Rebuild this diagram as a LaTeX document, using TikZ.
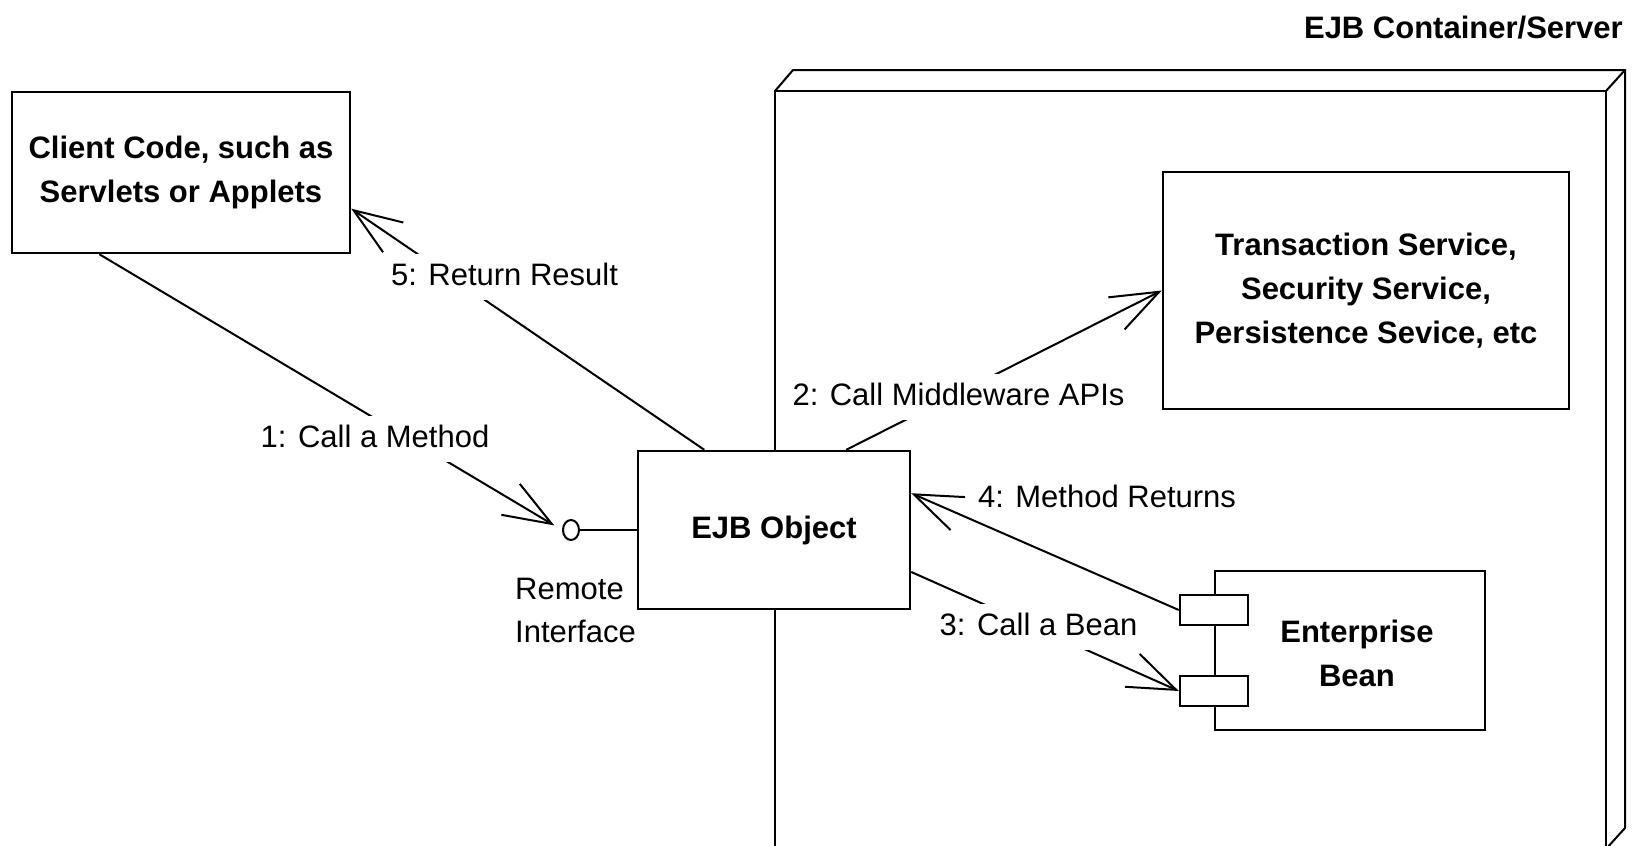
\documentclass[tikz,border=0pt]{standalone}
\usepackage{fontspec}
\setmainfont{Liberation Sans}
\usetikzlibrary{arrows.meta,calc,shapes.geometric}
\tikzset{
  box/.style={draw, line width=2.4pt, fill=white, inner sep=0pt, align=center, font=\bfseries\fontsize{31}{44}\selectfont},
  boxtext/.style={inner sep=0pt, align=center, font=\bfseries\fontsize{31}{44}\selectfont},
  cont/.style={draw, line width=2pt, line join=miter},
  link/.style={line width=2pt},
  msg/.style={line width=2pt, -{Straight Barb[length=48pt,width=36pt]}},
  lbl/.style={fill=white, inner xsep=3pt, inner ysep=8pt, text height=23pt, text depth=7pt, font=\fontsize{31}{44}\selectfont, anchor=base},
  port/.style={draw, line width=2.4pt, fill=white, minimum width=68pt, minimum height=30pt, inner sep=0pt},
  iface/.style={draw, ellipse, line width=2pt, fill=white, minimum width=16pt, minimum height=20pt, inner sep=0pt},
}
\begin{document}
\begin{tikzpicture}[x=1pt,y=-1pt]
\useasboundingbox (0,0) rectangle (1642,846);
\fill[white] (0,0) rectangle (1642,846);
\clip (0,0) rectangle (1642,846);

% container (3D box)
\draw[cont] (775,91) -- (793,70) -- (1625,70) -- (1625,828) -- (1606,849);
\draw[cont] (775,870) -- (775,91) -- (1606,91) -- (1606,870);
\draw[cont] (1606,91) -- (1625,70);
\node[anchor=base east, inner sep=0pt, font=\bfseries\fontsize{31}{44}\selectfont] (title) at (1623,38) {EJB Container/Server};

% nodes
\node[box, minimum width=338pt, minimum height=161pt] (client) at (181,172.5) {Client Code, such as\\Servlets or Applets};
\node[box, minimum width=406pt, minimum height=237pt] (trans) at (1366,290.5) {Transaction Service,\\Security Service,\\Persistence Sevice, etc};
\node[box, minimum width=272pt, minimum height=158pt] (ejb) at (774,530) {EJB Object};
\node[box, minimum width=270pt, minimum height=159pt] (bean) at (1350,650.5) {};
\node[boxtext] (beantext) at (1357,653) {Enterprise\\Bean};
\node[port] (upport) at (1214,610) {};
\node[port] (lowport) at (1214,691) {};
\node[iface] (iface) at (571,530) {};
\node[align=left, anchor=north west, inner sep=0pt, font=\fontsize{31}{43}\selectfont] (rilbl) at (515,577.8) {Remote\\Interface};

% connectors
\draw[link] (iface.east) -- (ejb.west);
\draw[msg, shorten >=9pt] (client.225) -- (iface.west);
\draw[msg] (ejb.131) -- (client.-12.8);
\draw[msg] (ejb.48) -- (trans.west);
\draw[msg] (ejb.-17) -- (lowport.west);
\draw[msg] (upport.west) -- (ejb.15.5);

% labels
\node[lbl] (l1) at (375,447) {1: Call a Method};
\node[lbl] (l5) at (504.5,285) {5: Return Result};
\node[lbl] (l2) at (958.5,405) {2: Call Middleware APIs};
\node[lbl] (l3) at (1038.5,635) {3: Call a Bean};
\node[lbl, fill=none] (l4) at (1107,507) {4: Method Returns};
\end{tikzpicture}
\end{document}
